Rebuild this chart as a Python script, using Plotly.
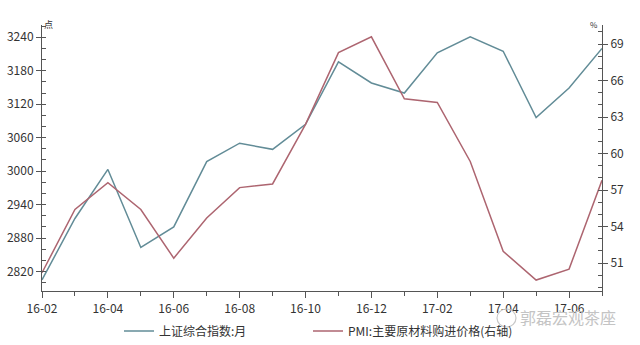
import plotly.graph_objects as go

months = ["16-02","16-03","16-04","16-05","16-06","16-07","16-08","16-09","16-10",
          "16-11","16-12","17-01","17-02","17-03","17-04","17-05","17-06","17-07"]
sh_index = [2805, 2915, 3003, 2863, 2900, 3017, 3050, 3039, 3084,
            3196, 3158, 3140, 3212, 3241, 3215, 3096, 3149, 3220]
pmi_price = [50.2, 55.4, 57.6, 55.4, 51.4, 54.7, 57.2, 57.5, 62.4,
             68.3, 69.6, 64.5, 64.2, 59.35, 51.96, 49.6, 50.5, 57.8]
name1 = "上证综合指数:月"
name2 = "PMI:主要原材料购进价格(右轴)"
left_ticks = [2820, 2880, 2940, 3000, 3060, 3120, 3180, 3240]
right_ticks = [51, 54, 57, 60, 63, 66, 69]
watermark = "郭磊宏观茶座"

xs = list(range(len(months)))
FONT = "Noto Sans CJK SC"
c1 = "#628C97"
c2 = "#AD6570"
axc = "#555555"

fig = go.Figure()
fig.add_trace(go.Scatter(x=xs, y=sh_index, mode="lines", name=name1, legend="legend",
                         line=dict(color=c1, width=1.5)))
fig.add_trace(go.Scatter(x=xs, y=pmi_price, mode="lines", name=name2, yaxis="y2",
                         legend="legend2", line=dict(color=c2, width=1.5)))

PH = 345 - 25 - 54
leg_common = dict(orientation="h", xanchor="left", y=(291 - 331) / PH, yanchor="middle",
                  font=dict(size=12, color="#333333"), itemwidth=30,
                  bgcolor="rgba(0,0,0,0)")

fig.update_layout(
    width=640, height=345,
    margin=dict(l=42, r=38, t=25, b=54, autoexpand=False),
    paper_bgcolor="white", plot_bgcolor="white",
    font=dict(family=FONT, size=12, color="#333333"),
    showlegend=True,
    legend=dict(x=(119 - 42) / 560, **leg_common),
    legend2=dict(x=(308 - 42) / 560, **leg_common),
    xaxis=dict(range=[0, len(months) - 1], tickmode="array",
               tickvals=xs[::2], ticktext=months[::2], automargin=False,
               showline=True, linecolor=axc, linewidth=1,
               ticks="outside", ticklen=6, tickcolor=axc, ticklabelstandoff=1,
               minor=dict(tickmode="array", tickvals=xs[1::2], ticks="outside",
                          ticklen=4, tickcolor=axc),
               showgrid=False, zeroline=False, tickfont=dict(size=12)),
    yaxis=dict(range=[2785, 3262], tickmode="array", tickvals=left_ticks,
               automargin=False,
               showline=True, linecolor=axc, linewidth=1,
               ticks="outside", ticklen=5, tickcolor=axc,
               minor=dict(dtick=20, ticks="inside", ticklen=4, tickcolor=axc, showgrid=False),
               showgrid=False, zeroline=False, tickfont=dict(size=12)),
    yaxis2=dict(range=[48.7, 70.57], tickmode="array", tickvals=right_ticks,
                overlaying="y", side="right", automargin=False,
                showline=True, linecolor=axc, linewidth=1,
                ticks="outside", ticklen=5, tickcolor=axc,
                minor=dict(dtick=1, ticks="inside", ticklen=4, tickcolor=axc, showgrid=False),
                showgrid=False, zeroline=False, tickfont=dict(size=12)),
    annotations=[
        dict(text="点", xref="paper", yref="paper", x=0, y=1.0, xanchor="left",
             yanchor="middle", xshift=0, yshift=1, showarrow=False,
             font=dict(size=9, color="#333333")),
        dict(text="%", xref="paper", yref="paper", x=1, y=1.0, xanchor="right",
             yanchor="middle", xshift=-2, yshift=1, showarrow=False,
             font=dict(size=8, color="#333333")),
        dict(text=watermark, xref="paper", yref="paper", x=0.94, y=(291 - 317) / PH,
             xanchor="center", yanchor="middle", showarrow=False,
             font=dict(size=16, color="#c4c4c4")),
    ],
    shapes=[
        dict(type="circle", xref="paper", yref="paper", layer="above",
             x0=(497 - 42) / 560, x1=(516 - 42) / 560,
             y0=(291 - 327) / PH, y1=(291 - 309) / PH,
             line=dict(color="#c8c8c8", width=1.2)),
    ],
)

fig.write_html("out.html")
